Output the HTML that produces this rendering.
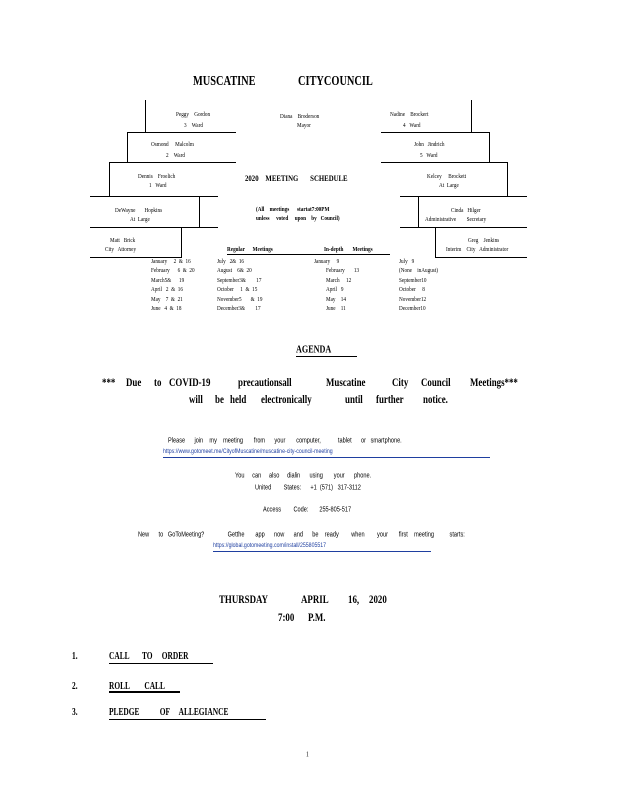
<!DOCTYPE html>
<html><head><meta charset="utf-8"><style>
body{margin:0;width:618px;height:800px;background:#fff;position:relative;overflow:hidden;font-family:"Liberation Serif",serif;color:#000}
.t{position:absolute;white-space:nowrap;line-height:1;transform-origin:0 50%;transform:translateY(-50%) scaleX(.8)}
.c{transform:translateY(-50%) scaleX(.74)}
.s{font-size:6.5px}
.b{font-weight:bold}
.a{font-family:"Liberation Sans",sans-serif;font-size:7px}
.l{position:absolute;background:#000}
.u{color:#1f3fa0}
</style></head><body>
<div class="l" style="left:145px;top:100px;width:1px;height:32px"></div>
<div class="l" style="left:127px;top:132px;width:109px;height:1px"></div>
<div class="l" style="left:127px;top:132px;width:1px;height:30px"></div>
<div class="l" style="left:109px;top:162px;width:127px;height:1px"></div>
<div class="l" style="left:109px;top:162px;width:1px;height:34px"></div>
<div class="l" style="left:90px;top:196px;width:128px;height:1px"></div>
<div class="l" style="left:199px;top:196px;width:1px;height:31px"></div>
<div class="l" style="left:90px;top:227px;width:128px;height:1px"></div>
<div class="l" style="left:181px;top:227px;width:1px;height:30px"></div>
<div class="l" style="left:90px;top:257px;width:92px;height:1px"></div>

<div class="l" style="left:471px;top:100px;width:1px;height:32px"></div>
<div class="l" style="left:381px;top:132px;width:108px;height:1px"></div>
<div class="l" style="left:489px;top:132px;width:1px;height:30px"></div>
<div class="l" style="left:381px;top:162px;width:126px;height:1px"></div>
<div class="l" style="left:507px;top:162px;width:1px;height:34px"></div>
<div class="l" style="left:400px;top:196px;width:127px;height:1px"></div>
<div class="l" style="left:418px;top:196px;width:1px;height:31px"></div>
<div class="l" style="left:400px;top:227px;width:127px;height:1px"></div>
<div class="l" style="left:435px;top:227px;width:1px;height:30px"></div>
<div class="l" style="left:435px;top:257px;width:92px;height:1px"></div>
<div class="l" style="left:227px;top:254px;width:163px;height:1px"></div>

<div class="t b c" style="left:193px;top:82px;font-size:14px">MUSCATINE</div>
<div class="t b c" style="left:298px;top:82px;font-size:14px">CITYCOUNCIL</div>

<div class="t s" style="left:176px;top:115px">Peggy &nbsp; &nbsp;Gordon</div>
<div class="t s" style="left:184px;top:126px">3 &nbsp; &nbsp;Ward</div>
<div class="t s" style="left:280px;top:117px">Diana &nbsp; &nbsp;Broderson</div>
<div class="t s" style="left:297px;top:126px">Mayor</div>
<div class="t s" style="left:390px;top:115px">Nadine &nbsp; &nbsp;Brockert</div>
<div class="t s" style="left:403px;top:126px">4 &nbsp; Ward</div>
<div class="t s" style="left:151px;top:145px">Osmond &nbsp; &nbsp; Malcolm</div>
<div class="t s" style="left:166px;top:156px">2 &nbsp; &nbsp;Ward</div>
<div class="t s" style="left:414px;top:145px">John &nbsp; Jindrich</div>
<div class="t s" style="left:420px;top:156px">5 &nbsp; Ward</div>
<div class="t s" style="left:138px;top:177px">Dennis &nbsp; &nbsp;Froelich</div>
<div class="t s" style="left:149px;top:186px">1 &nbsp; Ward</div>
<div class="t b" style="left:245px;top:178px;font-size:8.5px">2020 &nbsp; &nbsp;MEETING &nbsp; &nbsp; &nbsp; SCHEDULE</div>
<div class="t s" style="left:427px;top:177px">Kelcey &nbsp; &nbsp; Brockett</div>
<div class="t s" style="left:439px;top:186px">At &nbsp;Large</div>
<div class="t s" style="left:115px;top:211px">DeWayne &nbsp; &nbsp; &nbsp; Hopkins</div>
<div class="t s" style="left:130px;top:220px">At &nbsp;Large</div>
<div class="t s b" style="left:256px;top:210px">(All &nbsp; &nbsp;meetings &nbsp; &nbsp; &nbsp;startat7:00PM</div>
<div class="t s b" style="left:256px;top:219px">unless &nbsp; &nbsp; voted &nbsp; &nbsp; upon &nbsp; &nbsp;by &nbsp; Council)</div>
<div class="t s" style="left:451px;top:211px">Cinda &nbsp; Hilger</div>
<div class="t s" style="left:425px;top:220px">Administrative &nbsp; &nbsp; &nbsp; &nbsp;Secretary</div>
<div class="t s" style="left:110px;top:241px">Matt &nbsp; Brick</div>
<div class="t s" style="left:105px;top:250px">City &nbsp; Attorney</div>
<div class="t s" style="left:468px;top:241px">Greg &nbsp; &nbsp;Jenkins</div>
<div class="t s" style="left:446px;top:250px">Interim &nbsp; &nbsp;City &nbsp; Administrator</div>
<div class="t s b" style="left:227px;top:250px">Regular &nbsp; &nbsp; &nbsp;Meetings</div>
<div class="t s b" style="left:324px;top:250px">In-depth &nbsp; &nbsp; &nbsp; Meetings</div>

<div class="t s" style="left:151px;top:262px">January &nbsp; &nbsp; 2 &nbsp;&amp; &nbsp;16</div>
<div class="t s" style="left:151px;top:271px">February &nbsp; &nbsp; &nbsp;6 &nbsp;&amp; &nbsp;20</div>
<div class="t s" style="left:151px;top:281px">March5&amp; &nbsp; &nbsp; &nbsp;19</div>
<div class="t s" style="left:151px;top:290px">April &nbsp; 2 &nbsp;&amp; &nbsp;16</div>
<div class="t s" style="left:151px;top:300px">May &nbsp; &nbsp;7 &nbsp;&amp; &nbsp;21</div>
<div class="t s" style="left:151px;top:309px">June &nbsp; 4 &nbsp;&amp; &nbsp;18</div>
<div class="t s" style="left:217px;top:262px">July &nbsp; 2&amp; &nbsp;16</div>
<div class="t s" style="left:217px;top:271px">August &nbsp; &nbsp;6&amp; &nbsp;20</div>
<div class="t s" style="left:217px;top:281px">September3&amp; &nbsp; &nbsp; &nbsp; &nbsp;17</div>
<div class="t s" style="left:217px;top:290px">October &nbsp; &nbsp; 1 &nbsp;&amp; &nbsp;15</div>
<div class="t s" style="left:217px;top:300px">November5 &nbsp; &nbsp; &nbsp; &amp; &nbsp;19</div>
<div class="t s" style="left:217px;top:309px">December3&amp; &nbsp; &nbsp; &nbsp; &nbsp;17</div>
<div class="t s" style="left:314px;top:262px">January &nbsp; &nbsp; 9</div>
<div class="t s" style="left:326px;top:271px">February &nbsp; &nbsp; &nbsp; 13</div>
<div class="t s" style="left:326px;top:281px">March &nbsp; &nbsp; 12</div>
<div class="t s" style="left:326px;top:290px">April &nbsp; 9</div>
<div class="t s" style="left:326px;top:300px">May &nbsp; &nbsp;14</div>
<div class="t s" style="left:326px;top:309px">June &nbsp; &nbsp;11</div>
<div class="t s" style="left:399px;top:262px">July &nbsp; 9</div>
<div class="t s" style="left:399px;top:271px">(None &nbsp; &nbsp;inAugust)</div>
<div class="t s" style="left:399px;top:281px">September10</div>
<div class="t s" style="left:399px;top:290px">October &nbsp; &nbsp; 8</div>
<div class="t s" style="left:399px;top:300px">November12</div>
<div class="t s" style="left:399px;top:309px">December10</div>

<div class="t b c" style="left:296px;top:350px;font-size:11px">AGENDA</div>
<div class="l" style="left:296px;top:356px;width:61px;height:1px"></div>

<div class="t b c" style="left:102px;top:382px;font-size:12px">***</div>
<div class="t b c" style="left:126px;top:382px;font-size:12px">Due</div>
<div class="t b c" style="left:154px;top:382px;font-size:12px">to</div>
<div class="t b c" style="left:169px;top:382px;font-size:12px">COVID-19</div>
<div class="t b c" style="left:238px;top:382px;font-size:12px">precautionsall</div>
<div class="t b c" style="left:326px;top:382px;font-size:12px">Muscatine</div>
<div class="t b c" style="left:392px;top:382px;font-size:12px">City</div>
<div class="t b c" style="left:421px;top:382px;font-size:12px">Council</div>
<div class="t b c" style="left:470px;top:382px;font-size:12px">Meetings***</div>
<div class="t b c" style="left:189px;top:399px;font-size:12px">will</div>
<div class="t b c" style="left:215px;top:399px;font-size:12px">be</div>
<div class="t b c" style="left:230px;top:399px;font-size:12px">held</div>
<div class="t b c" style="left:261px;top:399px;font-size:12px">electronically</div>
<div class="t b c" style="left:345px;top:399px;font-size:12px">until</div>
<div class="t b c" style="left:376px;top:399px;font-size:12px">further</div>
<div class="t b c" style="left:423px;top:399px;font-size:12px">notice.</div>

<div class="t a" style="left:168px;top:441px">Please &nbsp; &nbsp; &nbsp;join &nbsp; &nbsp;my &nbsp; &nbsp;meeting &nbsp; &nbsp; &nbsp; from &nbsp; &nbsp; &nbsp;your &nbsp; &nbsp; &nbsp; computer, &nbsp; &nbsp; &nbsp; &nbsp; &nbsp; tablet &nbsp; &nbsp; &nbsp;or &nbsp; smartphone.</div>
<div class="t a u" style="left:163px;top:452px;font-size:6.5px">https://www.gotomeet.me/CityofMuscatine/muscatine-city-council-meeting</div>
<div class="l" style="left:163px;top:457px;width:327px;height:1px;background:#1f3fa0"></div>
<div class="t a" style="left:235px;top:476px">You &nbsp; &nbsp; can &nbsp; &nbsp; also &nbsp; &nbsp; dialin &nbsp; &nbsp; &nbsp;using &nbsp; &nbsp; &nbsp; your &nbsp; &nbsp; &nbsp;phone.</div>
<div class="t a" style="left:255px;top:488px">United &nbsp; &nbsp; &nbsp; &nbsp;States: &nbsp; &nbsp; &nbsp;+1 &nbsp;(571) &nbsp; 317-3112</div>
<div class="t a" style="left:263px;top:510px">Access &nbsp; &nbsp; &nbsp; &nbsp;Code: &nbsp; &nbsp; &nbsp; 255-805-517</div>
<div class="t a" style="left:138px;top:535px">New &nbsp; &nbsp; &nbsp;to &nbsp; GoToMeeting? &nbsp; &nbsp; &nbsp; &nbsp; &nbsp; &nbsp; &nbsp; Getthe &nbsp; &nbsp; &nbsp; app &nbsp; &nbsp; &nbsp;now &nbsp; &nbsp; &nbsp;and &nbsp; &nbsp; &nbsp;be &nbsp; &nbsp;ready &nbsp; &nbsp; &nbsp; &nbsp;when &nbsp; &nbsp; &nbsp; &nbsp;your &nbsp; &nbsp; &nbsp; first &nbsp; &nbsp;meeting &nbsp; &nbsp; &nbsp; &nbsp; &nbsp;starts:</div>
<div class="t a u" style="left:213px;top:546px;font-size:6.5px">https://global.gotomeeting.com/install/255805517</div>
<div class="l" style="left:213px;top:551px;width:218px;height:1px;background:#1f3fa0"></div>

<div class="t b c" style="left:219px;top:599px;font-size:12px">THURSDAY</div>
<div class="t b c" style="left:301px;top:599px;font-size:12px">APRIL</div>
<div class="t b c" style="left:348px;top:599px;font-size:12px">16,</div>
<div class="t b c" style="left:369px;top:599px;font-size:12px">2020</div>
<div class="t b c" style="left:278px;top:617px;font-size:12px">7:00</div>
<div class="t b c" style="left:308px;top:617px;font-size:12px">P.M.</div>

<div class="t b c" style="left:72px;top:657px;font-size:10px">1.</div>
<div class="t b c" style="left:109px;top:657px;font-size:10px">CALL &nbsp; &nbsp; &nbsp; TO &nbsp; &nbsp; ORDER</div>
<div class="l" style="left:109px;top:663px;width:104px;height:1px"></div>
<div class="t b c" style="left:72px;top:687px;font-size:10px">2.</div>
<div class="t b c" style="left:109px;top:687px;font-size:10px">ROLL &nbsp; &nbsp; &nbsp; &nbsp;CALL</div>
<div class="l" style="left:109px;top:691px;width:71px;height:2px"></div>
<div class="t b c" style="left:72px;top:713px;font-size:10px">3.</div>
<div class="t b c" style="left:109px;top:713px;font-size:10px">PLEDGE &nbsp; &nbsp; &nbsp; &nbsp; &nbsp; OF &nbsp; &nbsp; ALLEGIANCE</div>
<div class="l" style="left:109px;top:719px;width:157px;height:1px"></div>
<div class="t" style="left:306px;top:755px;font-size:7px">1</div>
</body></html>
